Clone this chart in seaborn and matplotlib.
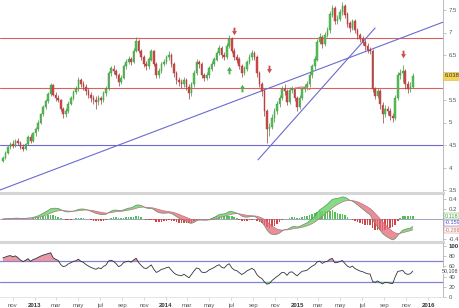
import numpy as np
import pandas as pd
import matplotlib
matplotlib.use('Agg')
import matplotlib.pyplot as plt
import matplotlib.dates as mdates
import matplotlib.transforms as mtransforms
from matplotlib.ticker import FuncFormatter, FixedLocator
import seaborn as sns

sns.set_theme(style='white')
plt.rcParams['font.family'] = ['Liberation Sans', 'DejaVu Sans']

# ---------------- data (weekly candles) ----------------
dates = pd.date_range('2012-10-04', periods=164, freq='7D')

opens = [4.15, 4.22, 4.32, 4.45, 4.52, 4.48, 4.60, 4.54, 4.46, 4.40,
         4.52, 4.68, 4.58, 4.76, 4.85, 5.00, 5.18, 5.34, 5.48, 5.64,
         5.83, 5.62, 5.55, 5.50, 5.30, 5.18, 5.25, 5.42, 5.55, 5.68,
         5.75, 5.95, 5.85, 5.80, 5.70, 5.62, 5.55, 5.50, 5.45, 5.55,
         5.50, 5.65, 5.75, 6.10, 6.20, 6.15, 6.05, 5.90, 6.00, 6.25,
         6.35, 6.40, 6.35, 6.60, 6.82, 6.60, 6.45, 6.30, 6.25, 6.40,
         6.58, 6.30, 6.05, 6.15, 6.30, 6.35, 6.45, 6.50, 6.30, 6.10,
         5.95, 5.90, 5.85, 5.95, 5.80, 5.65, 5.85, 6.10, 6.35, 6.30,
         6.05, 6.00, 6.05, 6.20, 6.30, 6.40, 6.55, 6.65, 6.50, 6.45,
         6.70, 6.85, 6.60, 6.45, 6.40, 6.25, 6.10, 6.20, 6.35, 6.45,
         6.55, 6.45, 6.10, 5.85, 5.70, 5.25, 4.85, 4.90, 5.10, 5.25,
         5.40, 5.55, 5.75, 5.70, 5.45, 5.72, 5.75, 5.55, 5.35, 5.55,
         5.75, 5.78, 5.85, 6.05, 6.25, 6.40, 6.80, 6.90, 6.75, 6.95,
         7.05, 7.40, 7.55, 7.25, 7.30, 7.45, 7.60, 7.40, 7.20, 7.10,
         7.25, 7.05, 6.95, 6.85, 6.80, 6.70, 6.62, 6.60, 5.75, 5.60,
         5.70, 5.40, 5.20, 5.30, 5.25, 5.15, 5.10, 5.55, 6.05, 6.10,
         6.15, 5.85, 5.75, 5.80]

highs = [4.26, 4.36, 4.48, 4.56, 4.62, 4.64, 4.66, 4.58, 4.52, 4.55,
         4.72, 4.74, 4.80, 4.90, 5.05, 5.22, 5.38, 5.52, 5.68, 5.88,
         5.86, 5.68, 5.62, 5.52, 5.34, 5.32, 5.47, 5.60, 5.72, 5.82,
         6.02, 6.00, 5.92, 5.85, 5.76, 5.68, 5.62, 5.58, 5.62, 5.60,
         5.70, 5.82, 6.15, 6.26, 6.28, 6.20, 6.10, 6.06, 6.30, 6.42,
         6.47, 6.45, 6.65, 6.90, 6.86, 6.64, 6.50, 6.36, 6.46, 6.64,
         6.62, 6.34, 6.22, 6.35, 6.42, 6.50, 6.58, 6.54, 6.34, 6.15,
         6.02, 5.96, 6.02, 6.00, 5.86, 5.90, 6.16, 6.42, 6.40, 6.34,
         6.10, 6.12, 6.26, 6.36, 6.46, 6.60, 6.72, 6.70, 6.56, 6.76,
         6.95, 6.90, 6.65, 6.52, 6.45, 6.30, 6.26, 6.40, 6.52, 6.62,
         6.60, 6.50, 6.14, 5.90, 5.75, 5.30, 5.00, 5.18, 5.32, 5.48,
         5.62, 5.82, 5.86, 5.74, 5.78, 5.82, 5.80, 5.60, 5.62, 5.80,
         5.86, 5.92, 6.12, 6.30, 6.48, 6.86, 6.98, 6.95, 7.02, 7.12,
         7.48, 7.62, 7.60, 7.38, 7.52, 7.68, 7.64, 7.45, 7.26, 7.30,
         7.30, 7.10, 7.00, 6.92, 6.86, 6.76, 6.68, 6.64, 5.80, 5.76,
         5.75, 5.45, 5.38, 5.36, 5.32, 5.22, 5.62, 6.12, 6.20, 6.28,
         6.20, 5.92, 5.90, 6.10]

lows = [4.12, 4.20, 4.30, 4.40, 4.44, 4.45, 4.50, 4.42, 4.36, 4.38,
        4.50, 4.55, 4.56, 4.70, 4.82, 4.96, 5.14, 5.30, 5.44, 5.60,
        5.58, 5.48, 5.45, 5.25, 5.10, 5.12, 5.22, 5.38, 5.50, 5.63,
        5.70, 5.78, 5.72, 5.62, 5.55, 5.45, 5.40, 5.30, 5.38, 5.42,
        5.46, 5.60, 5.72, 6.04, 6.08, 5.98, 5.82, 5.85, 5.96, 6.20,
        6.30, 6.28, 6.32, 6.56, 6.55, 6.38, 6.24, 6.16, 6.20, 6.36,
        6.25, 5.98, 6.00, 6.10, 6.25, 6.30, 6.40, 6.24, 6.02, 5.86,
        5.82, 5.76, 5.80, 5.72, 5.52, 5.60, 5.80, 6.05, 6.22, 5.98,
        5.92, 5.95, 6.00, 6.15, 6.25, 6.36, 6.50, 6.44, 6.38, 6.42,
        6.65, 6.54, 6.38, 6.32, 6.18, 6.02, 6.05, 6.15, 6.30, 6.40,
        6.38, 6.02, 5.78, 5.60, 5.15, 4.55, 4.70, 4.85, 5.02, 5.20,
        5.35, 5.50, 5.62, 5.38, 5.40, 5.66, 5.48, 5.25, 5.30, 5.50,
        5.68, 5.72, 5.80, 6.00, 6.20, 6.36, 6.74, 6.66, 6.70, 6.90,
        7.00, 7.35, 7.18, 7.18, 7.25, 7.40, 7.32, 7.12, 7.02, 7.05,
        6.98, 6.86, 6.78, 6.72, 6.62, 6.54, 6.52, 5.68, 5.52, 5.55,
        5.30, 4.98, 5.12, 5.16, 5.05, 5.02, 5.06, 5.50, 5.96, 5.90,
        5.75, 5.65, 5.68, 5.76]

closes = [4.22, 4.32, 4.45, 4.52, 4.48, 4.60, 4.54, 4.46, 4.40, 4.52,
          4.68, 4.58, 4.76, 4.85, 5.00, 5.18, 5.34, 5.48, 5.64, 5.83,
          5.62, 5.55, 5.50, 5.30, 5.18, 5.25, 5.42, 5.55, 5.68, 5.75,
          5.95, 5.85, 5.80, 5.70, 5.62, 5.55, 5.50, 5.45, 5.55, 5.50,
          5.65, 5.75, 6.10, 6.20, 6.15, 6.05, 5.90, 6.00, 6.25, 6.35,
          6.40, 6.35, 6.60, 6.82, 6.60, 6.45, 6.30, 6.25, 6.40, 6.58,
          6.30, 6.05, 6.15, 6.30, 6.35, 6.45, 6.50, 6.30, 6.10, 5.95,
          5.90, 5.85, 5.95, 5.80, 5.65, 5.85, 6.10, 6.35, 6.30, 6.05,
          6.00, 6.05, 6.20, 6.30, 6.40, 6.55, 6.65, 6.50, 6.45, 6.70,
          6.85, 6.60, 6.45, 6.40, 6.25, 6.10, 6.20, 6.35, 6.45, 6.55,
          6.45, 6.10, 5.85, 5.70, 5.25, 4.85, 4.90, 5.10, 5.25, 5.40,
          5.55, 5.75, 5.70, 5.45, 5.72, 5.75, 5.55, 5.35, 5.55, 5.75,
          5.78, 5.85, 6.05, 6.25, 6.40, 6.80, 6.90, 6.75, 6.95, 7.05,
          7.40, 7.55, 7.25, 7.30, 7.45, 7.60, 7.40, 7.20, 7.10, 7.25,
          7.05, 6.95, 6.85, 6.80, 6.70, 6.62, 6.60, 5.75, 5.60, 5.70,
          5.40, 5.20, 5.30, 5.25, 5.15, 5.10, 5.55, 6.05, 6.10, 6.15,
          5.85, 5.75, 5.80, 6.04]

# horizontal levels and drawn trend lines
red_levels = [6.87, 5.76]
blue_levels = [4.5]
trend1_dates = ['2012-09-26', '2016-02-11']
trend1_prices = [3.50, 7.23]
trend2_dates = ['2014-09-14', '2015-08-06']
trend2_prices = [4.17, 7.10]
arc_dates = ['2014-12-18', '2015-02-12']
arc_prices = [5.72, 5.70]

# signal arrows
sell_dates = ['2014-07-10', '2014-10-16', '2015-10-22']
sell_prices = [7.03, 6.19, 6.52]
buy_dates = ['2014-06-26', '2014-07-31']
buy_prices = [6.17, 5.77]

last_price_label = '6.038'
macd_labels = ['0.118', '-0.159', '-0.266']
rsi_label = '50,108'

price_ticks = [3.5, 4, 4.5, 5, 5.5, 6.5, 7, 7.5]
macd_ticks = [-0.4, 0.2, 0.4]
rsi_ticks = [0, 20, 40, 60, 80, 100]

# ---------------- indicators ----------------
o = np.array(opens); h = np.array(highs); l = np.array(lows); c = np.array(closes)
cs = pd.Series(c, index=dates)
ema12 = cs.ewm(span=12, adjust=True).mean()
ema26 = cs.ewm(span=26, adjust=True).mean()
macd = ema12 - ema26
signal = macd.ewm(span=9, adjust=True).mean()
hist = macd - signal

# Wilder RSI(14), seeded with the mean gain / loss of the first 14 weeks
d = np.diff(c)
g = np.clip(d, 0, None)
ls = np.clip(-d, 0, None)
ag, al = g[:14].mean(), ls[:14].mean()
rsi_vals = [100 * ag / (ag + al)]
for k in range(len(d)):
    ag = (ag * 13 + g[k]) / 14
    al = (al * 13 + ls[k]) / 14
    rsi_vals.append(100 * ag / (ag + al))
rsi = np.array(rsi_vals)

# ---------------- figure ----------------
W, H = 460, 308
fig = plt.figure(figsize=(W / 100, H / 100), dpi=100)
fig.patch.set_facecolor('white')
rw = 443 / W
ax = fig.add_axes([0, 1 - 193 / H, rw, 193 / H])
axm = fig.add_axes([0, (H - 242) / H, rw, 48 / H], sharex=ax)
axr = fig.add_axes([0, (H - 297) / H, rw, 54 / H], sharex=ax)

xmin = mdates.date2num(pd.Timestamp('2012-09-26'))
xmax = mdates.date2num(pd.Timestamp('2016-02-11'))

GREEN = '#55c255'
RED = '#cf4a4a'
BLUE = '#6a6ad2'
LRED = '#d9625c'
TXT = '#555555'
SEP = '#d6d6d6'

# candles
up = c >= o
x = mdates.date2num(dates)
ax.vlines(x, l, h, colors=np.where(up, '#3f8f3f', '#9a3a3a'), linewidth=0.5, zorder=3)
ax.bar(x, np.maximum(np.abs(c - o), 0.02), bottom=np.minimum(o, c), width=4.4,
       color=np.where(up, GREEN, RED), edgecolor=np.where(up, '#3a963a', '#a83636'),
       linewidth=0.3, zorder=4)

for lv in red_levels:
    ax.axhline(lv, color=LRED, lw=0.8, zorder=2)
for lv in blue_levels:
    ax.axhline(lv, color=BLUE, lw=0.8, zorder=2)
sns.lineplot(x=pd.to_datetime(trend1_dates), y=trend1_prices, ax=ax, color=BLUE, lw=0.8, zorder=2)
sns.lineplot(x=pd.to_datetime(trend2_dates), y=trend2_prices, ax=ax, color=BLUE, lw=0.8, zorder=2)
ax.annotate('', xy=(pd.Timestamp(arc_dates[1]), arc_prices[1]),
            xytext=(pd.Timestamp(arc_dates[0]), arc_prices[0]),
            arrowprops=dict(arrowstyle='-', color='#e07070', lw=0.8,
                            connectionstyle='arc3,rad=-0.35'), zorder=5)

down_arrow = [(-0.25, 1), (0.25, 1), (0.25, 0.1), (0.65, 0.1), (0, -1), (-0.65, 0.1), (-0.25, 0.1), (-0.25, 1)]
up_arrow = [(px, -py) for px, py in down_arrow]
ax.scatter(pd.to_datetime(sell_dates), sell_prices, marker=down_arrow, s=30, color='#c9504c', zorder=6, linewidths=0)
ax.scatter(pd.to_datetime(buy_dates), buy_prices, marker=up_arrow, s=30, color='#4cae4c', zorder=6, linewidths=0)

ax.set_ylim(7.5 - 183 / 45, 7.5 + 10 / 45)
ax.set_xlim(xmin, xmax)

# MACD panel
axm.axhline(0, color='#9090c0', lw=0.6, zorder=1)
axm.bar(x, hist.values, width=4.4, color=np.where(hist.values >= 0, '#4fc24f', '#d64545'), linewidth=0, zorder=2)
axm.fill_between(x, macd.values, signal.values, where=macd.values >= signal.values,
                 interpolate=True, color='#6fd66f', alpha=0.85, linewidth=0, zorder=3)
axm.fill_between(x, macd.values, signal.values, where=macd.values < signal.values,
                 interpolate=True, color='#e46a78', alpha=0.75, linewidth=0, zorder=3)
sns.lineplot(x=dates, y=macd.values, ax=axm, color='#5f8f5f', lw=0.5, zorder=4)
sns.lineplot(x=dates, y=signal.values, ax=axm, color='#c07080', lw=0.5, zorder=4)
axm.set_ylim(-0.46, 0.5)

# RSI panel
axr.axhline(70, color='#8282d6', lw=0.9, zorder=1)
axr.axhline(30, color='#8282d6', lw=0.9, zorder=1)
axr.fill_between(x, rsi, 70, where=rsi > 70, interpolate=True,
                 color='#e07080', alpha=0.7, linewidth=0, zorder=2)
axr.fill_between(x, rsi, 30, where=rsi < 30, interpolate=True,
                 color='#70d070', alpha=0.7, linewidth=0, zorder=2)
sns.lineplot(x=dates, y=rsi, ax=axr, color='#333333', lw=0.6, zorder=3)
axr.set_ylim(0, 100 + 3 / 0.51)

# ---------------- styling ----------------
for a in (ax, axm, axr):
    a.set_facecolor('none')
    a.yaxis.tick_right()
    a.set_xlabel('')
    a.set_ylabel('')
    for s in ('left', 'top'):
        a.spines[s].set_visible(False)
    a.spines['right'].set_color('#b0b0b0')
    a.spines['right'].set_linewidth(0.6)
    a.tick_params(axis='y', which='both', right=True, length=2, width=0.4, color='#999999',
                  labelsize=4.3, labelcolor=TXT, pad=2)
    a.grid(False)

for a in (ax, axm):
    a.spines['bottom'].set_color(SEP)
    a.spines['bottom'].set_linewidth(2.2)
    a.tick_params(axis='x', which='both', bottom=False, labelbottom=False)

axr.spines['bottom'].set_color('#e0e0e0')
axr.spines['bottom'].set_linewidth(0.6)

ax.yaxis.set_major_locator(FixedLocator(price_ticks))
ax.yaxis.set_major_formatter(FuncFormatter(lambda v, p: ('%g' % v)))
axm.yaxis.set_major_locator(FixedLocator(macd_ticks))
axm.yaxis.set_major_formatter(FuncFormatter(lambda v, p: ('%g' % v)))
axr.yaxis.set_major_locator(FixedLocator(rsi_ticks))
axr.yaxis.set_major_formatter(FuncFormatter(lambda v, p: ('%g' % v)))

# x axis: every two months, year label in January
axr.xaxis.set_major_locator(mdates.MonthLocator(bymonth=[1, 3, 5, 7, 9, 11]))
month_names = {1: '', 3: 'mar', 5: 'may', 7: 'jul', 9: 'sep', 11: 'nov'}
axr.xaxis.set_major_formatter(FuncFormatter(
    lambda v, p: (str(mdates.num2date(v).year) if mdates.num2date(v).month == 1
                  else month_names[mdates.num2date(v).month])))
axr.tick_params(axis='x', which='both', bottom=True, length=2, width=0.4, color='#bbbbbb',
                labelsize=4.3, labelcolor=TXT, pad=2)
fig.canvas.draw()
for t in axr.get_xticklabels():
    if t.get_text().isdigit():
        t.set_fontweight('bold')
        t.set_color('#333333')
for t in axr.get_yticklabels():
    if t.get_text() == '100':
        t.set_fontweight('bold')
        t.set_color('#333333')

# right side value labels
tr = ax.get_yaxis_transform()
ax.text(1.004, c[-1], last_price_label, transform=tr, fontsize=4.3, color='#333333',
        va='center', ha='left', zorder=10, clip_on=False,
        bbox=dict(boxstyle='square,pad=0.25', fc='#f3d35a', ec='#e0b830', lw=0.4))
trm = axm.get_yaxis_transform()
for txt, yv, col in zip(macd_labels, [0.06, -0.08, -0.22], ['#3fa33f', '#5555c8', '#d06a6a']):
    axm.text(1.004, yv, txt, transform=trm, fontsize=4.0, color=col, va='center', ha='left',
             clip_on=False, zorder=10,
             bbox=dict(boxstyle='square,pad=0.15', fc='white', ec=col, lw=0.3))
trr = mtransforms.blended_transform_factory(fig.transFigure, axr.transData)
axr.text(0.997, rsi[-1], rsi_label, transform=trr, fontsize=3.8, color='#444444',
         va='center', ha='right', clip_on=False, zorder=10,
         bbox=dict(boxstyle='square,pad=0.05', fc='white', ec='none'))

for a in (ax, axm, axr):
    a.set_xlim(xmin, xmax)
    if a.get_legend() is not None:
        a.get_legend().remove()

fig.savefig('out.png', dpi=100, facecolor='white')
